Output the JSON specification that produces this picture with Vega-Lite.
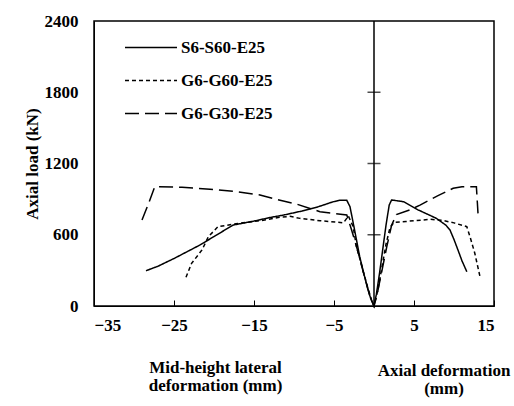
{
  "$schema": "https://vega.github.io/schema/vega-lite/v6.json",
  "width": 400,
  "height": 285,
  "autosize": "none",
  "padding": {"left": 94, "top": 21, "right": 20, "bottom": 100},
  "background": "white",
  "config": {
    "font": "Liberation Serif, Times New Roman, serif",
    "view": {"stroke": "black", "strokeWidth": 1.5},
    "axis": {"labelFont": "Liberation Serif, Times New Roman, serif", "labelFontSize": 17, "labelFontWeight": "bold", "labelColor": "black", "titleFont": "Liberation Serif, Times New Roman, serif", "titleFontSize": 17, "titleColor": "black", "titleFontWeight": "bold", "grid": false, "domainColor": "black", "tickColor": "black", "format": "d"}
  },
  "title": {"text": ["Axial deformation", "(mm)"], "orient": "bottom", "anchor": "end", "align": "center", "frame": "group", "font": "Liberation Serif, Times New Roman, serif", "fontSize": 17, "fontWeight": "bold", "color": "black", "lineHeight": 18, "dx": -50, "dy": -34},
  "datasets": {
    "curves": [
      {"s": "S6-S60-E25", "i": 1, "x": -28.5, "y": 297},
      {"s": "S6-S60-E25", "i": 2, "x": -27, "y": 335},
      {"s": "S6-S60-E25", "i": 3, "x": -25, "y": 400},
      {"s": "S6-S60-E25", "i": 4, "x": -23, "y": 470},
      {"s": "S6-S60-E25", "i": 5, "x": -21.75, "y": 514},
      {"s": "S6-S60-E25", "i": 6, "x": -20, "y": 585},
      {"s": "S6-S60-E25", "i": 7, "x": -17.6, "y": 682},
      {"s": "S6-S60-E25", "i": 8, "x": -15, "y": 715},
      {"s": "S6-S60-E25", "i": 9, "x": -13, "y": 745},
      {"s": "S6-S60-E25", "i": 10, "x": -11.3, "y": 766},
      {"s": "S6-S60-E25", "i": 11, "x": -9, "y": 800},
      {"s": "S6-S60-E25", "i": 12, "x": -7, "y": 835},
      {"s": "S6-S60-E25", "i": 13, "x": -5.1, "y": 878},
      {"s": "S6-S60-E25", "i": 14, "x": -4.3, "y": 890},
      {"s": "S6-S60-E25", "i": 15, "x": -3.4, "y": 890},
      {"s": "S6-S60-E25", "i": 16, "x": -3.0, "y": 836},
      {"s": "S6-S60-E25", "i": 17, "x": -2.6, "y": 700},
      {"s": "S6-S60-E25", "i": 18, "x": -2.2, "y": 560},
      {"s": "S6-S60-E25", "i": 19, "x": -1.8, "y": 420},
      {"s": "S6-S60-E25", "i": 20, "x": -1.3, "y": 280},
      {"s": "S6-S60-E25", "i": 21, "x": -0.8, "y": 150},
      {"s": "S6-S60-E25", "i": 22, "x": -0.4, "y": 60},
      {"s": "S6-S60-E25", "i": 23, "x": 0, "y": 0},
      {"s": "S6-S60-E25", "i": 24, "x": 0.3, "y": 100},
      {"s": "S6-S60-E25", "i": 25, "x": 0.7, "y": 280},
      {"s": "S6-S60-E25", "i": 26, "x": 1.1, "y": 480},
      {"s": "S6-S60-E25", "i": 27, "x": 1.5, "y": 680},
      {"s": "S6-S60-E25", "i": 28, "x": 1.9, "y": 850},
      {"s": "S6-S60-E25", "i": 29, "x": 2.2, "y": 893},
      {"s": "S6-S60-E25", "i": 30, "x": 3.7, "y": 878},
      {"s": "S6-S60-E25", "i": 31, "x": 5.5, "y": 810},
      {"s": "S6-S60-E25", "i": 32, "x": 7.8, "y": 738},
      {"s": "S6-S60-E25", "i": 33, "x": 9, "y": 680},
      {"s": "S6-S60-E25", "i": 34, "x": 9.5, "y": 640},
      {"s": "S6-S60-E25", "i": 35, "x": 10, "y": 560},
      {"s": "S6-S60-E25", "i": 36, "x": 10.5, "y": 471},
      {"s": "S6-S60-E25", "i": 37, "x": 11, "y": 380},
      {"s": "S6-S60-E25", "i": 38, "x": 11.6, "y": 289},
      {"s": "G6-G60-E25", "i": 1, "x": -23.5, "y": 242},
      {"s": "G6-G60-E25", "i": 2, "x": -22.8, "y": 359},
      {"s": "G6-G60-E25", "i": 3, "x": -21.5, "y": 472},
      {"s": "G6-G60-E25", "i": 4, "x": -20.7, "y": 584},
      {"s": "G6-G60-E25", "i": 5, "x": -19.5, "y": 668},
      {"s": "G6-G60-E25", "i": 6, "x": -17, "y": 695},
      {"s": "G6-G60-E25", "i": 7, "x": -14, "y": 720},
      {"s": "G6-G60-E25", "i": 8, "x": -12, "y": 745},
      {"s": "G6-G60-E25", "i": 9, "x": -10.5, "y": 755},
      {"s": "G6-G60-E25", "i": 10, "x": -9.25, "y": 738},
      {"s": "G6-G60-E25", "i": 11, "x": -6.75, "y": 718},
      {"s": "G6-G60-E25", "i": 12, "x": -3.8, "y": 701},
      {"s": "G6-G60-E25", "i": 13, "x": -3.2, "y": 758},
      {"s": "G6-G60-E25", "i": 14, "x": -2.6, "y": 668},
      {"s": "G6-G60-E25", "i": 15, "x": -2.2, "y": 500},
      {"s": "G6-G60-E25", "i": 16, "x": -1.7, "y": 380},
      {"s": "G6-G60-E25", "i": 17, "x": -1.3, "y": 280},
      {"s": "G6-G60-E25", "i": 18, "x": -0.8, "y": 160},
      {"s": "G6-G60-E25", "i": 19, "x": -0.3, "y": 50},
      {"s": "G6-G60-E25", "i": 20, "x": 0, "y": 0},
      {"s": "G6-G60-E25", "i": 21, "x": 0.5, "y": 140},
      {"s": "G6-G60-E25", "i": 22, "x": 1.0, "y": 330},
      {"s": "G6-G60-E25", "i": 23, "x": 1.5, "y": 520},
      {"s": "G6-G60-E25", "i": 24, "x": 2.0, "y": 660},
      {"s": "G6-G60-E25", "i": 25, "x": 2.5, "y": 705},
      {"s": "G6-G60-E25", "i": 26, "x": 4, "y": 712},
      {"s": "G6-G60-E25", "i": 27, "x": 7, "y": 730},
      {"s": "G6-G60-E25", "i": 28, "x": 8.5, "y": 722},
      {"s": "G6-G60-E25", "i": 29, "x": 10, "y": 700},
      {"s": "G6-G60-E25", "i": 30, "x": 11.6, "y": 668},
      {"s": "G6-G60-E25", "i": 31, "x": 12, "y": 584},
      {"s": "G6-G60-E25", "i": 32, "x": 12.6, "y": 444},
      {"s": "G6-G60-E25", "i": 33, "x": 13.25, "y": 247},
      {"s": "G6-G30-E25", "i": 1, "x": -29, "y": 724},
      {"s": "G6-G30-E25", "i": 2, "x": -28.2, "y": 860},
      {"s": "G6-G30-E25", "i": 3, "x": -27.4, "y": 1005},
      {"s": "G6-G30-E25", "i": 4, "x": -24, "y": 1000},
      {"s": "G6-G30-E25", "i": 5, "x": -20.5, "y": 983},
      {"s": "G6-G30-E25", "i": 6, "x": -17.2, "y": 963},
      {"s": "G6-G30-E25", "i": 7, "x": -14.25, "y": 935},
      {"s": "G6-G30-E25", "i": 8, "x": -12.2, "y": 898},
      {"s": "G6-G30-E25", "i": 9, "x": -9.7, "y": 859},
      {"s": "G6-G30-E25", "i": 10, "x": -6.75, "y": 794},
      {"s": "G6-G30-E25", "i": 11, "x": -3.4, "y": 766},
      {"s": "G6-G30-E25", "i": 12, "x": -2.8, "y": 640},
      {"s": "G6-G30-E25", "i": 13, "x": -2.0, "y": 457},
      {"s": "G6-G30-E25", "i": 14, "x": -1.2, "y": 250},
      {"s": "G6-G30-E25", "i": 15, "x": -0.5, "y": 80},
      {"s": "G6-G30-E25", "i": 16, "x": 0, "y": 0},
      {"s": "G6-G30-E25", "i": 17, "x": 0.4, "y": 100},
      {"s": "G6-G30-E25", "i": 18, "x": 1.0, "y": 300},
      {"s": "G6-G30-E25", "i": 19, "x": 1.6, "y": 500},
      {"s": "G6-G30-E25", "i": 20, "x": 2.2, "y": 680},
      {"s": "G6-G30-E25", "i": 21, "x": 2.8, "y": 770},
      {"s": "G6-G30-E25", "i": 22, "x": 4.5, "y": 810},
      {"s": "G6-G30-E25", "i": 23, "x": 5.75, "y": 850},
      {"s": "G6-G30-E25", "i": 24, "x": 8, "y": 930},
      {"s": "G6-G30-E25", "i": 25, "x": 9.9, "y": 991},
      {"s": "G6-G30-E25", "i": 26, "x": 11, "y": 1005},
      {"s": "G6-G30-E25", "i": 27, "x": 12.8, "y": 1005},
      {"s": "G6-G30-E25", "i": 28, "x": 13, "y": 780}
    ],
    "zero": [{"x": 0}],
    "zticks": [{"x": 0, "y": 600}, {"x": 0, "y": 1200}, {"x": 0, "y": 1800}]
  },
  "layer": [
    {
      "data": {"name": "curves"},
      "mark": {"type": "line", "color": "black", "strokeWidth": 1.5},
      "encoding": {
        "x": {"field": "x", "type": "quantitative", "scale": {"domain": [-35, 15], "nice": false, "zero": false},
          "axis": {"values": [-35, -25, -15, -5, 5, 15], "tickSize": -6, "labelPadding": 17, "title": ["Mid-height lateral", "deformation (mm)"], "titleX": 121, "titleY": 53, "titleLineHeight": 18, "titleAlign": "center", "titleBaseline": "top"}},
        "y": {"field": "y", "type": "quantitative", "scale": {"domain": [0, 2400], "nice": false},
          "axis": {"values": [0, 600, 1200, 1800, 2400], "ticks": false, "labelPadding": 16, "title": "Axial load (kN)", "titlePadding": 3}},
        "order": {"field": "i", "type": "quantitative"},
        "strokeDash": {"field": "s", "type": "nominal",
          "scale": {"domain": ["S6-S60-E25", "G6-G60-E25", "G6-G30-E25"], "range": [[1, 0], [4, 3], [14, 6]]},
          "legend": {"title": null, "orient": "none", "legendX": 48.5, "legendY": 18, "symbolType": "M-4,0H4", "symbolSize": 169, "symbolStrokeWidth": 1.5, "symbolStrokeColor": "black", "symbolFillColor": "transparent", "labelFont": "Liberation Serif, Times New Roman, serif", "labelFontSize": 17, "labelFontWeight": "bold", "labelColor": "black", "labelOffset": 21.5, "rowPadding": 15, "padding": 0}}
      }
    },
    {
      "data": {"name": "zero"},
      "mark": {"type": "rule", "color": "black", "strokeWidth": 1.5},
      "encoding": {"x": {"field": "x", "type": "quantitative"}}
    },
    {
      "data": {"name": "zticks"},
      "mark": {"type": "tick", "orient": "horizontal", "color": "black", "size": 13, "thickness": 1.5},
      "encoding": {
        "x": {"field": "x", "type": "quantitative"},
        "y": {"field": "y", "type": "quantitative"}
      }
    }
  ]
}
